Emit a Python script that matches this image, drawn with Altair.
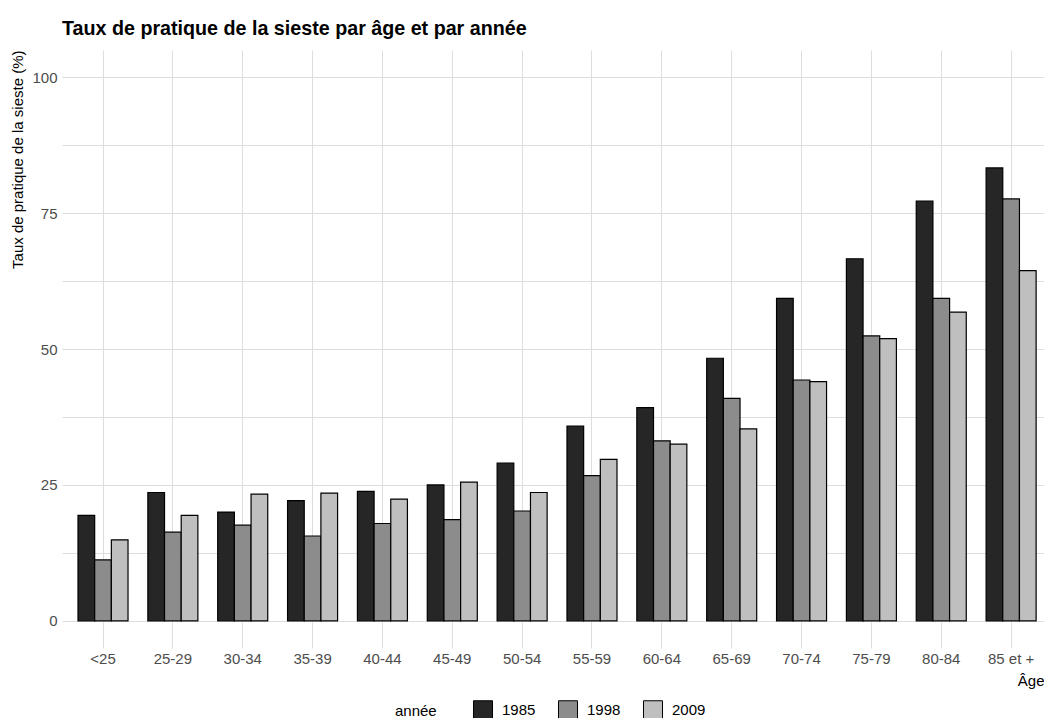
import altair as alt
import pandas as pd

ages = ["<25", "25-29", "30-34", "35-39", "40-44", "45-49", "50-54",
        "55-59", "60-64", "65-69", "70-74", "75-79", "80-84", "85 et +"]
years = ["1985", "1998", "2009"]
v1985 = [19.4, 23.6, 20.0, 22.1, 23.8, 25.0, 29.0, 35.8, 39.2, 48.3, 59.3, 66.6, 77.2, 83.3]
v1998 = [11.2, 16.3, 17.6, 15.6, 17.9, 18.6, 20.2, 26.7, 33.1, 40.9, 44.3, 52.4, 59.3, 77.6]
v2009 = [14.9, 19.4, 23.3, 23.5, 22.4, 25.5, 23.6, 29.7, 32.5, 35.3, 44.0, 51.9, 56.8, 64.4]
y_grid_values = [0, 12.5, 25, 37.5, 50, 62.5, 75, 87.5, 100]
colors = ["#262626", "#8c8c8c", "#bfbfbf"]

rows = []
for yr, vals in zip(years, [v1985, v1998, v2009]):
    for a, v in zip(ages, vals):
        rows.append({"age": a, "annee": yr, "value": v})
df = pd.DataFrame(rows)

FONT = "Liberation Sans"

chart = alt.Chart(df).mark_bar(stroke="black", strokeWidth=1.2).encode(
    x=alt.X("age:N", sort=ages,
            scale=alt.Scale(paddingInner=0.284, paddingOuter=0.171, align=0.67),
            axis=alt.Axis(title="Âge", labelAngle=0, ticks=False, domain=False,
                          grid=True, bandPosition=0.5, labelPadding=3,
                          titleX=982, titleY=37, titleAlign="right",
                          titleBaseline="alphabetic")),
    xOffset=alt.XOffset("annee:N", sort=years,
                        scale=alt.Scale(paddingInner=0, paddingOuter=0)),
    y=alt.Y("value:Q", scale=alt.Scale(domain=[-5, 105], nice=False, zero=False),
            axis=alt.Axis(title="Taux de pratique de la sieste (%)",
                          values=y_grid_values,
                          labelExpr="datum.value % 25 == 0 ? datum.label : ''",
                          ticks=False, domain=False, labelPadding=5,
                          titleX=-45, titleY=0, titleAlign="right",
                          titleBaseline="middle", titleAngle=270)),
    color=alt.Color("annee:N", sort=years,
                    scale=alt.Scale(domain=years, range=colors),
                    legend=alt.Legend(title="année", orient="none",
                                      legendX=333, legendY=650,
                                      direction="horizontal", titleOrient="left",
                                      symbolType="square", symbolSize=361,
                                      symbolStrokeColor="black", symbolStrokeWidth=1,
                                      symbolOpacity=1, labelOffset=9,
                                      columnPadding=20, titlePadding=36)),
).properties(
    width=982, height=598,
    padding={"left": 54, "top": 42, "right": 0, "bottom": 70},
    autosize=alt.AutoSizeParams(type="none"),
    title=alt.TitleParams("Taux de pratique de la sieste par âge et par année",
                          anchor="start", frame="group", fontSize=19.7,
                          fontWeight="bold", font=FONT, color="black", offset=11),
).configure_view(stroke=None).configure_axis(
    labelFont=FONT, titleFont=FONT, labelFontSize=15, titleFontSize=15,
    labelColor="#4d4d4d", titleColor="black", titleFontWeight="normal",
    gridColor="#dedede", gridWidth=1,
).configure_legend(
    labelFont=FONT, titleFont=FONT, labelFontSize=15, titleFontSize=15,
    labelColor="black", titleColor="black", titleFontWeight="normal",
)

chart.save("out.html", embed_options={"renderer": "svg", "actions": False})
